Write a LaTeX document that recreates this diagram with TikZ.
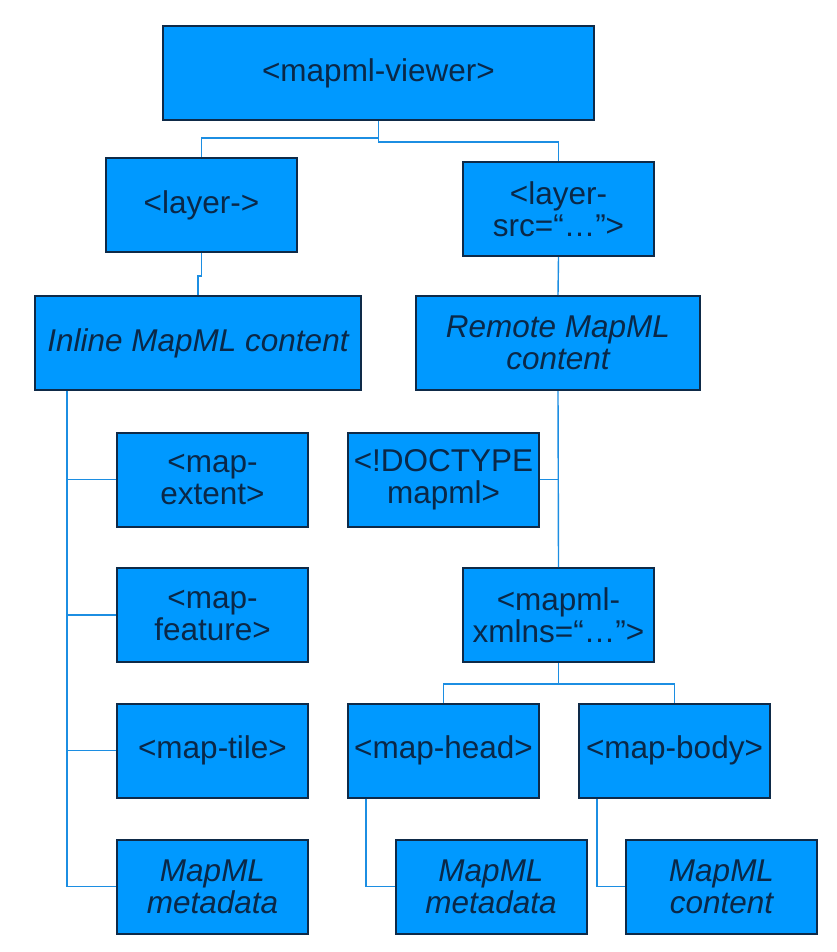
\documentclass[tikz,border=0pt]{standalone}
\usepackage{fontspec}
\setmainfont{Liberation Sans}
\definecolor{boxfill}{RGB}{0,153,255}
\definecolor{boxline}{RGB}{14,42,72}
\definecolor{txt}{RGB}{10,40,72}
\definecolor{linkc}{RGB}{28,142,226}
\tikzset{
  box/.style={draw=boxline, fill=boxfill, line width=2pt, text=txt, align=center,
    inner sep=0pt, minimum width=191pt, minimum height=94pt,
    font=\fontsize{31.5}{32}\selectfont},
  link/.style={draw=linkc, line width=1.4pt}
}
\begin{document}
\begin{tikzpicture}[x=1pt,y=-1pt]
\useasboundingbox (0,0) rectangle (837,952);
\node[box, minimum width=431pt] (viewer) at (378.5,73) {<mapml-viewer>};
\node[box] (layer) at (201.5,205) {<layer->};
\node[box] (layersrc) at (558.5,209) {<layer-\\src=“…”>};
\node[box, minimum width=326pt] (inline) at (198,343) {\itshape Inline MapML content};
\node[box, minimum width=284pt] (remote) at (558,343) {\itshape Remote MapML\\\itshape content};
% inline children
\node[box] (extent) at (212.5,479.5) {<map-\\extent>};
\node[box] (feature) at (212.5,615) {<map-\\feature>};
\node[box] (tile) at (212.5,750.5) {<map-tile>};
\node[box] (metaL) at (212.5,886.5) {\itshape MapML\\\itshape metadata};
% remote children
\node[box] (doctype) at (443.5,479.5) {<!DOCTYPE\\mapml>};
\node[box] (xmlns) at (558.5,615) {<mapml-\\xmlns=“…”>};
\node[box] (head) at (443.5,750.5) {<map-head>};
\node[box] (body) at (674.5,750.5) {<map-body>};
\node[box] (metaR) at (491,886.5) {\itshape MapML\\\itshape metadata};
\node[box] (content) at (721.5,886.5) {\itshape MapML\\\itshape content};
% connectors
\draw[link] (viewer.south) -- ++(0,17) -| (layer.north);
\draw[link] (viewer.south) -- ++(0,21) -| (layersrc.north);
\draw[link] (layer.south) -- ++(0,23) -| (inline.north);
\draw[link] (layersrc.south) -- (remote.north);
\coordinate (spineL) at ([xshift=33pt]inline.south west);
\draw[link] (spineL) |- (metaL.west);
\foreach \n in {extent,feature,tile}
  \draw[link] (\n.west) -- (\n.west -| spineL);
\draw[link] (remote.south) -- (xmlns.north);
\draw[link] (doctype.east) -- (doctype.east -| remote.south);
\draw[link] (xmlns.south) -- ++(0,21) -| (head.north);
\draw[link] (xmlns.south) -- ++(0,21) -| (body.north);
\draw[link] ([xshift=19pt]head.south west) |- (metaR.west);
\draw[link] ([xshift=19pt]body.south west) |- (content.west);
\end{tikzpicture}
\end{document}
